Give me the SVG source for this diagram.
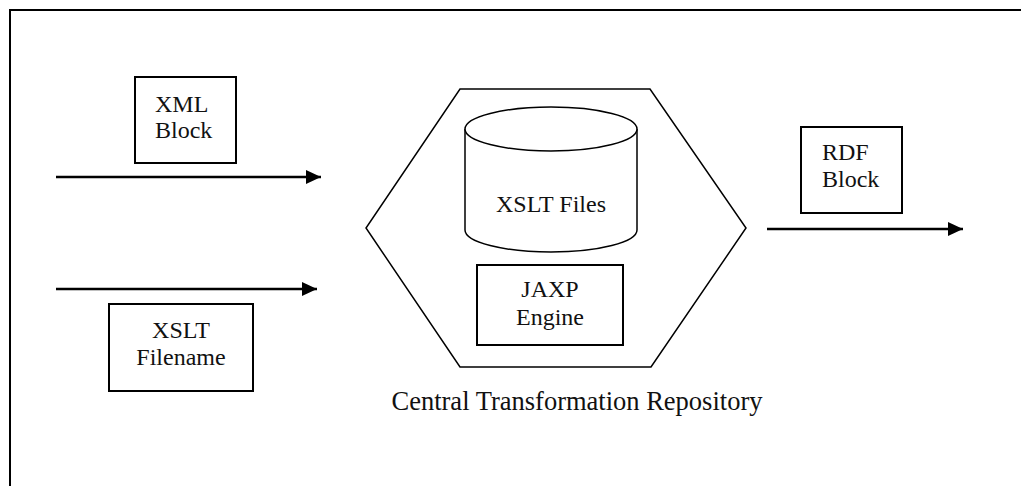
<svg xmlns="http://www.w3.org/2000/svg" width="1021" height="486" viewBox="0 0 1021 486">
  <style>
    .frame { fill: none; stroke: #000; stroke-width: 2; }
    .box { fill: #fff; stroke: #000; stroke-width: 2; }
    .shape { fill: #fff; stroke: #000; stroke-width: 1.5; }
    .flow { fill: none; stroke: #000; stroke-width: 2.5; marker-end: url(#arrow); }
    text { font-family: "Liberation Serif", "Times New Roman", serif; font-size: 24px; fill: #111; }
    .mid { text-anchor: middle; }
    .caption { font-size: 26.5px; }
  </style>
  <defs>
    <marker id="arrow" markerUnits="userSpaceOnUse" markerWidth="16" markerHeight="16" refX="15" refY="7" orient="auto">
      <path d="M0,0 L15,7 L0,14 Z" fill="#000"/>
    </marker>
  </defs>

  <rect width="1021" height="486" fill="#fff"/>
  <!-- page border (top and left edges) -->
  <path class="frame" d="M10,486 L10,10 L1021,10"/>

  <g id="connectors">
    <path class="flow" d="M56,177 L321,177"/>
    <path class="flow" d="M56,289 L317,289"/>
    <path class="flow" d="M767,229 L963,229"/>
  </g>

  <g id="xml-block">
    <rect class="box" x="135" y="77" width="101" height="86"/>
    <text x="155" y="112">XML</text>
    <text x="155" y="138">Block</text>
  </g>

  <g id="xslt-filename">
    <rect class="box" x="109" y="304" width="144" height="87"/>
    <text class="mid" x="181" y="338">XSLT</text>
    <text class="mid" x="181" y="365">Filename</text>
  </g>

  <g id="repository">
    <polygon class="shape" points="460,89 650,89 746,228 651,367 460,367 366,228"/>
    <text class="mid caption" x="577" y="410">Central Transformation Repository</text>
  </g>

  <g id="xslt-files">
    <path class="shape" d="M465,129 L465,230 A86,22 0 0 0 637,230 L637,129 A86,22 0 0 0 465,129 Z"/>
    <path class="shape" d="M465,129 A86,22 0 0 0 637,129"/>
    <text class="mid" x="551" y="212">XSLT Files</text>
  </g>

  <g id="jaxp-engine">
    <rect class="box" x="477" y="265" width="146" height="80"/>
    <text class="mid" x="550" y="297">JAXP</text>
    <text class="mid" x="550" y="325">Engine</text>
  </g>

  <g id="rdf-block">
    <rect class="box" x="801" y="127" width="101" height="86"/>
    <text x="822" y="160">RDF</text>
    <text x="822" y="187">Block</text>
  </g>
</svg>
